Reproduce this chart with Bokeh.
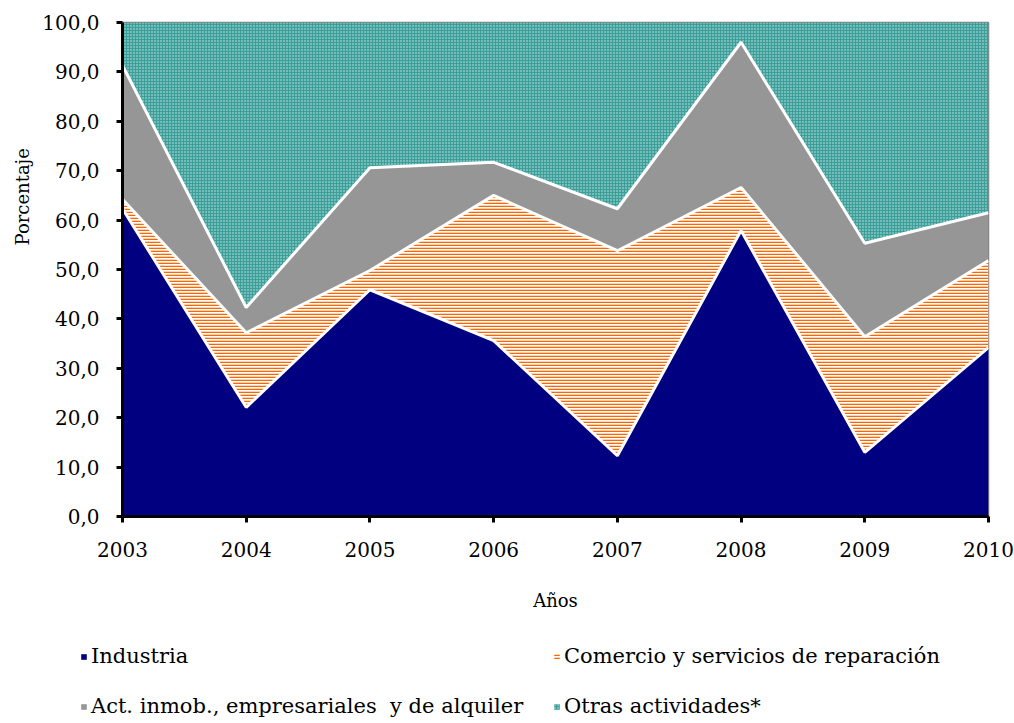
import numpy as np
from bokeh.plotting import figure
from bokeh.layouts import column
from bokeh.models import Legend, LegendItem, FixedTicker, ColumnDataSource, Title
from bokeh.embed import file_html
from bokeh.resources import INLINE

years = [2003, 2004, 2005, 2006, 2007, 2008, 2009, 2010]
industria = [62.3, 22.1, 45.9, 35.6, 12.3, 57.9, 13.0, 34.2]
comercio = [1.9, 15.1, 3.9, 29.4, 41.5, 8.7, 23.4, 17.6]
act_inmob = [27.1, 5.1, 20.8, 6.7, 8.5, 29.4, 18.9, 9.7]
otras = [8.7, 57.7, 29.4, 28.3, 37.7, 4.0, 44.7, 38.5]
labels = ["Industria", "Comercio y servicios de reparación",
          "Act. inmob., empresariales  y de alquiler", "Otras actividades*"]
y_ticks = [0, 10, 20, 30, 40, 50, 60, 70, 80, 90, 100]

FONT = "DejaVu Serif"

series = [np.array(industria), np.array(comercio), np.array(act_inmob), np.array(otras)]
cum = np.cumsum(np.vstack(series), axis=0)
bottoms = [np.zeros(len(years))] + [cum[i - 1] for i in range(1, 4)]
tops = [cum[i] for i in range(4)]

p = figure(width=1014, height=623, output_backend="svg", toolbar_location=None,
           x_range=(2003, 2010), y_range=(0, 100),
           min_border_left=122, min_border_right=26, min_border_top=22,
           min_border_bottom=107)
p.frame_align = False
p.grid.visible = False
p.outline_line_color = "#808080"
p.outline_line_width = 1.5

styles = [
    dict(fill_color="#000080"),
    dict(fill_color="white", hatch_pattern="horizontal_line", hatch_color="#FF6600",
         hatch_scale=3, hatch_weight=1.6),
    dict(fill_color="#969696"),
    dict(fill_color="#3C9F99", hatch_pattern="dot", hatch_color="#CDEAE7",
         hatch_scale=3, hatch_weight=1),
]
renderers = []
for i in range(4):
    src = ColumnDataSource(dict(x=years, y1=bottoms[i], y2=tops[i]))
    r = p.varea(x="x", y1="y1", y2="y2", source=src, **styles[i])
    renderers.append(r)
for i in range(3):
    p.line(years, tops[i], line_color="white", line_width=3)

p.xaxis.ticker = FixedTicker(ticks=years)
p.yaxis.ticker = FixedTicker(ticks=y_ticks)
p.yaxis.major_label_overrides = {t: f"{t:.1f}".replace(".", ",") for t in y_ticks}
for ax in (p.xaxis[0], p.yaxis[0]):
    ax.axis_line_color = "black"
    ax.axis_line_width = 3
    ax.major_tick_line_color = "black"
    ax.major_tick_line_width = 3
    ax.major_tick_out = 6
    ax.major_tick_in = 0
    ax.minor_tick_line_color = None
    ax.major_label_text_font = FONT
    ax.major_label_text_font_size = "20px"
    ax.major_label_text_color = "black"
    ax.axis_label_text_font = FONT
    ax.axis_label_text_font_size = "18px"
    ax.axis_label_text_font_style = "normal"
    ax.axis_label_text_color = "black"
p.xaxis.axis_label = "Años"
p.xaxis.major_label_standoff = 19
p.xaxis.axis_label_standoff = 30
p.yaxis.major_label_standoff = 17

# y-axis title as a side-panel Title so it can sit above the axis centre
ytitle = Title(text="Porcentaje", align="left", offset=271, standoff=14,
               text_font=FONT, text_font_size="18px", text_font_style="normal",
               text_color="black")
p.add_layout(ytitle, "left")

# legend panel below the chart
lf = figure(width=1014, height=100, output_backend="svg", toolbar_location=None,
            x_axis_type=None, y_axis_type=None, x_range=(0, 1), y_range=(0, 1),
            min_border=0, outline_line_color=None)
lf.frame_align = False
lf.grid.visible = False
leg_r = []
for i in range(4):
    src = ColumnDataSource(dict(x=[5, 6], y1=[5, 5], y2=[6, 6]))
    leg_r.append(lf.varea(x="x", y1="y1", y2="y2", source=src, **styles[i]))

common = dict(label_text_font=FONT, label_text_font_size="21px", label_text_color="black",
              glyph_width=7, glyph_height=7, label_standoff=4,
              spacing=24, border_line_color=None, background_fill_alpha=0,
              margin=0, padding=0, label_height=26, orientation="vertical")
leg1 = Legend(items=[LegendItem(label=labels[0], renderers=[leg_r[0]]),
                     LegendItem(label=labels[2], renderers=[leg_r[2]])],
              location=(80, 4), **common)
leg2 = Legend(items=[LegendItem(label=labels[1], renderers=[leg_r[1]]),
                     LegendItem(label=labels[3], renderers=[leg_r[3]])],
              location=(553, 4), **common)
lf.add_layout(leg1, "center")
lf.add_layout(leg2, "center")

layout = column(p, lf, spacing=0)
open("out.html", "w").write(file_html(layout, INLINE))
